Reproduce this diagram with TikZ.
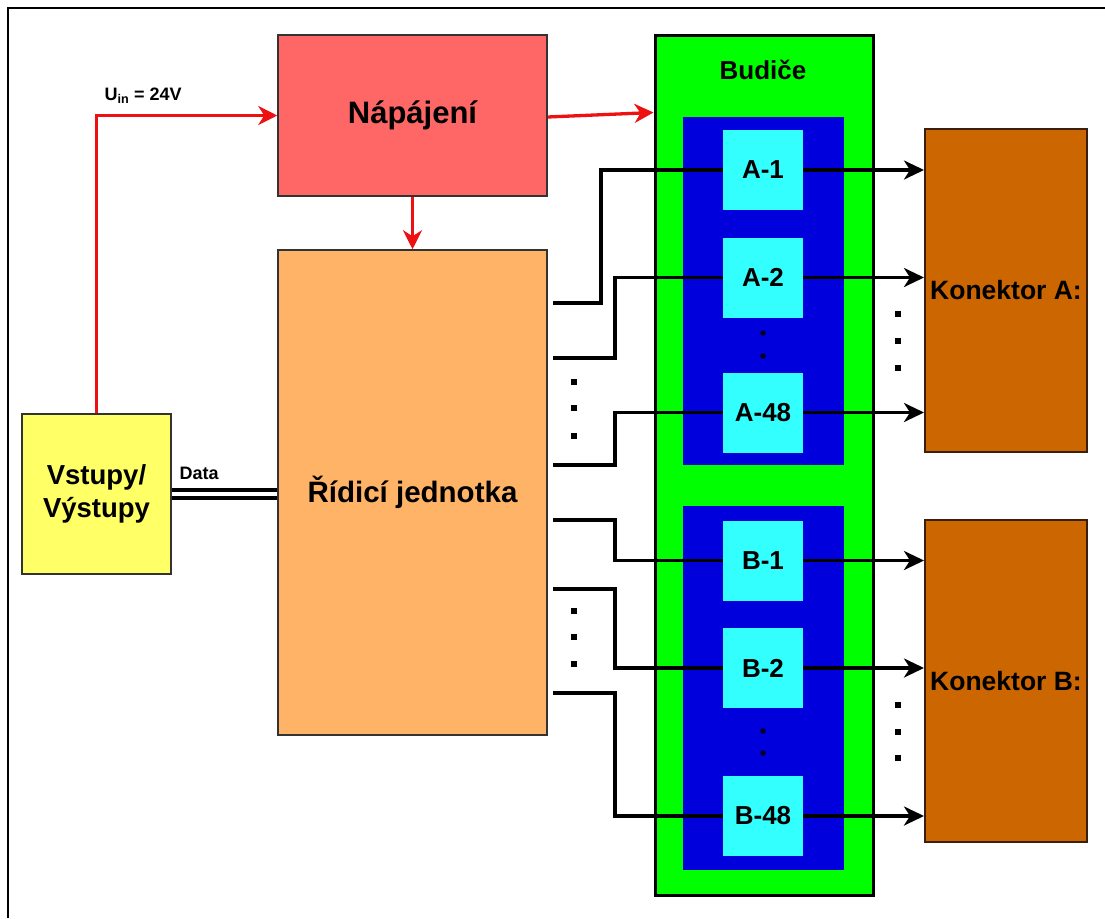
\documentclass[tikz,border=0pt]{standalone}
\usepackage{fontspec}
\setmainfont{Liberation Sans}
\usetikzlibrary{arrows.meta,calc}
\definecolor{napc}{HTML}{FF6666}
\definecolor{ridc}{HTML}{FFB366}
\definecolor{vstc}{HTML}{FFFF66}
\definecolor{budc}{HTML}{00FF00}
\definecolor{bluc}{HTML}{0000DD}
\definecolor{cyanc}{HTML}{33FFFF}
\definecolor{konc}{HTML}{CC6600}
\definecolor{konline}{HTML}{3A1F0A}
\definecolor{boxline}{HTML}{333333}
\definecolor{redc}{HTML}{EE1111}
\tikzset{
  blk/.style={rectangle, draw=boxline, line width=1.5pt, inner sep=0pt, align=center,
    font=\bfseries\fontsize{27.5}{33}\selectfont, text=black},
  cell/.style={rectangle, fill=cyanc, inner sep=0pt, minimum width=80pt, minimum height=80pt,
    font=\bfseries\fontsize{26}{31}\selectfont},
  bank/.style={rectangle, fill=bluc, inner sep=0pt, minimum width=161pt},
  kon/.style={rectangle, fill=konc, draw=konline, line width=2pt, inner sep=0pt,
    minimum width=162pt, font=\bfseries\fontsize{26.5}{31}\selectfont},
  wire/.style={line width=3.3pt, black},
  sig/.style={wire, -{Stealth[length=20pt,width=19pt,inset=6pt]}},
  pwr/.style={line width=3.3pt, redc, -{Stealth[length=19pt,width=19pt,inset=6pt]}},
  lbl/.style={anchor=base west, font=\bfseries\fontsize{18}{21}\selectfont}
}
\begin{document}
\begin{tikzpicture}[x=1pt,y=-1pt]
\useasboundingbox (0,0) rectangle (1105,918);
\fill[white] (0,0) rectangle (1105,918);
% frame
\draw[line width=2.5pt] (8,918) -- (8,8) -- (1105,8);

% blocks
\node[blk, fill=napc, minimum width=269pt, minimum height=161pt,
      font=\bfseries\fontsize{31}{36}\selectfont] (nap) at (412.5,115.5) {Nápájení};
\node[blk, fill=ridc, minimum width=269pt, minimum height=485pt,
      font=\bfseries\fontsize{29.5}{34}\selectfont] (rid) at (412.5,492.5) {Řídicí jednotka};
\node[blk, fill=vstc, minimum width=149pt, minimum height=160pt] (vst) at (96.5,494) {Vstupy/\\Výstupy};

\node[rectangle, fill=budc, draw=black, line width=3pt, minimum width=218pt, minimum height=860pt,
      inner sep=0pt] (bud) at (764,465) {};
\node[font=\bfseries\fontsize{26}{31}\selectfont] (budl) at (763,70) {Budiče};
\node[bank, minimum height=348pt] (bluA) at (763.5,291) {};
\node[bank, minimum height=364pt] (bluB) at (763.5,688) {};

\node[cell] (a1) at (763,170) {A-1};
\node[cell] (a2) at (763,277.5) {A-2};
\node[cell] (a48) at (763,412.5) {A-48};
\node[cell] (b1) at (763,560.5) {B-1};
\node[cell] (b2) at (763,668) {B-2};
\node[cell] (b48) at (763,816) {B-48};

\node[kon, minimum height=323pt] (konA) at (1006,290.5) {Konektor A:};
\node[kon, minimum height=322pt] (konB) at (1006,681) {Konektor B:};

% labels
\node[lbl] (uin) at (101,100) {U\textsubscript{in} = 24V};
\node[lbl] (data) at (176,479) {Data};

% power
\draw[pwr] (vst.north) |- (nap.west);
\draw[pwr] ([yshift=-1.5pt]nap.east) -- ([yshift=-79pt]bud.north west);
\draw[pwr] (nap.south) -- (rid.north);

% data bus
\coordinate (d1) at ([yshift=4pt]vst.east);
\coordinate (d2) at ([yshift=-4pt]vst.east);
\draw[wire] (d1) -- (d1 -| rid.west);
\draw[wire] (d2) -- (d2 -| rid.west);

% control outputs
\coordinate (ra1) at (553,303);
\coordinate (ra2) at (553,358);
\coordinate (ra48) at (553,465);
\coordinate (rb1) at (553,520);
\coordinate (rb2) at (553,589);
\coordinate (rb48) at (553,693);
\draw[wire] (ra1) -| (601,170) -- (a1.west);
\draw[wire] (ra2) -| (615,277.5) -- (a2.west);
\draw[wire] (ra48) -| (615,412.5) -- (a48.west);
\draw[wire] (rb1) -| (615,560.5) -- (b1.west);
\draw[wire] (rb2) -| (615,668) -- (b2.west);
\draw[wire] (rb48) -| (615,816) -- (b48.west);

% driver outputs
\draw[sig] (a1.east) -- (a1.east -| konA.west);
\draw[sig] (a2.east) -- (a2.east -| konA.west);
\draw[sig] (a48.east) -- (a48.east -| konA.west);
\draw[sig] (b1.east) -- (b1.east -| konB.west);
\draw[sig] (b2.east) -- (b2.east -| konB.west);
\draw[sig] (b48.east) -- (b48.east -| konB.west);

% ellipsis dots
\foreach \yy in {382,408,436,611,637,664} \fill[black] (571,\yy-3) rectangle ++(6,6);
\foreach \yy in {314,341,368,705,732,758} \fill[black] (895,\yy-3) rectangle ++(6,6);
\foreach \yy in {333,356,731,753} \fill[black!85!blue] (763,\yy) circle[radius=2.8];
\end{tikzpicture}
\end{document}
